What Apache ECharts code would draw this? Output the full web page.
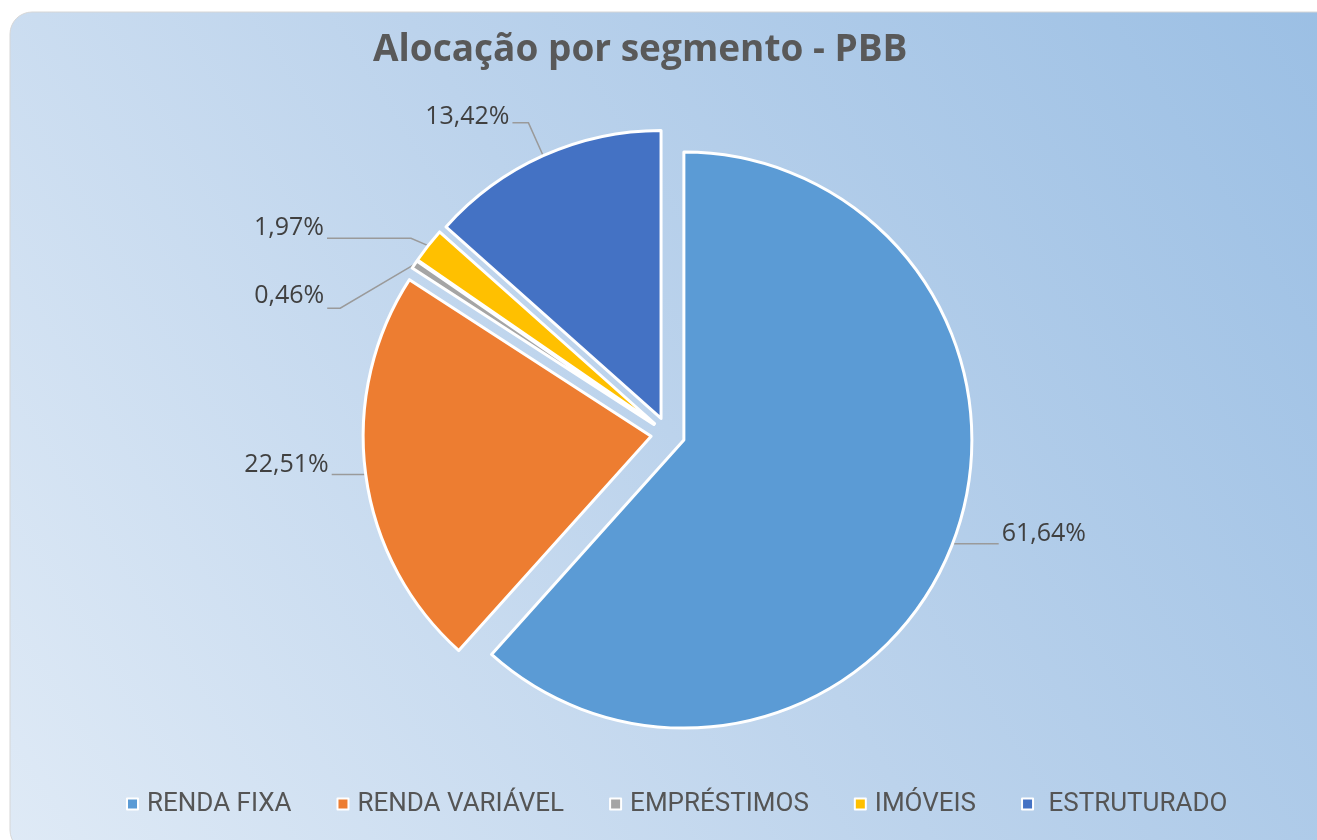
<!DOCTYPE html>
<html>
<head>
<meta charset="utf-8">
<script src="https://cdn.jsdelivr.net/npm/echarts@6/dist/echarts.min.js"></script>
<style>
html,body{margin:0;padding:0;background:#fff;}
#c{width:1317px;height:840px;}
</style>
</head>
<body>
<div id="c"></div>
<script>
const titleText = 'Alocação por segmento - PBB';
const categories = ['RENDA FIXA', 'RENDA VARIÁVEL', 'EMPRÉSTIMOS', 'IMÓVEIS', 'ESTRUTURADO'];
const values = [61.64, 22.51, 0.46, 1.97, 13.42];
const colors = ['#5b9bd5', '#ed7d31', '#a5a5a5', '#ffc000', '#4472c4'];

const chart = echarts.init(document.getElementById('c'));
const fmt = v => v.toFixed(2).replace('.', ',') + '%';

// leader-line lengths [radial, horizontal] per slice
const lineLen = [[2, 44], [2, 35], [0, 78], [12, 84], [36, 16]];

chart.setOption({
  animation: false,
  graphic: [{
    type: 'rect',
    shape: {x: 10, y: 12, width: 1320, height: 840, r: [22, 12, 0, 22]},
    style: {
      fill: {
        type: 'linear', x: 0, y: 1, x2: 1, y2: 0,
        colorStops: [{offset: 0, color: '#dfeaf6'}, {offset: 0.5, color: '#bcd3ec'}, {offset: 1, color: '#9bbfe4'}]
      },
      stroke: '#d6d6d6', lineWidth: 1
    },
    z: -10, silent: true
  }],
  title: {
    text: titleText,
    left: 368, top: 27,
    textStyle: {fontFamily: 'Open Sans', fontWeight: 'bold', fontSize: 37, color: '#595959'}
  },
  legend: {
    data: categories,
    left: 121, top: 786,
    icon: 'rect', itemWidth: 11, itemHeight: 11, itemGap: 45,
    formatter: n => n === 'ESTRUTURADO' ? ' ' + n : n,
    textStyle: {fontFamily: 'Roboto', fontSize: 26, color: '#555555', padding: [0, 0, 0, 4]}
  },
  series: [{
    type: 'pie',
    center: [668, 434],
    radius: 288,
    startAngle: 90,
    clockwise: true,
    selectedMode: 'multiple',
    selectedOffset: 17,
    avoidLabelOverlap: true,
    emphasis: {disabled: true},
    itemStyle: {borderColor: '#ffffff', borderWidth: 3},
    label: {
      show: true, position: 'outside',
      formatter: p => fmt(p.value),
      fontFamily: 'Open Sans', fontSize: 25, color: '#404040',
      distanceToLabelLine: 3
    },
    labelLayout: p => {
      if (p.dataIndex === 2 && p.labelLinePoints) {
        const pts = p.labelLinePoints;
        const drop = 42;
        const end = [pts[2][0], pts[2][1] + drop];
        return {
          dy: drop - 12,
          labelLinePoints: [pts[0], [end[0] + 13, end[1]], end]
        };
      }
      return {dy: p.dataIndex === 4 ? -6 : -10};
    },
    labelLine: {show: true, lineStyle: {color: '#9a9a9a', width: 1.5}},
    data: categories.map((c, i) => ({
      name: c, value: values[i], selected: true,
      itemStyle: {color: colors[i]},
      labelLine: {length: lineLen[i][0], length2: lineLen[i][1]}
    }))
  }]
});
</script>
</body>
</html>
